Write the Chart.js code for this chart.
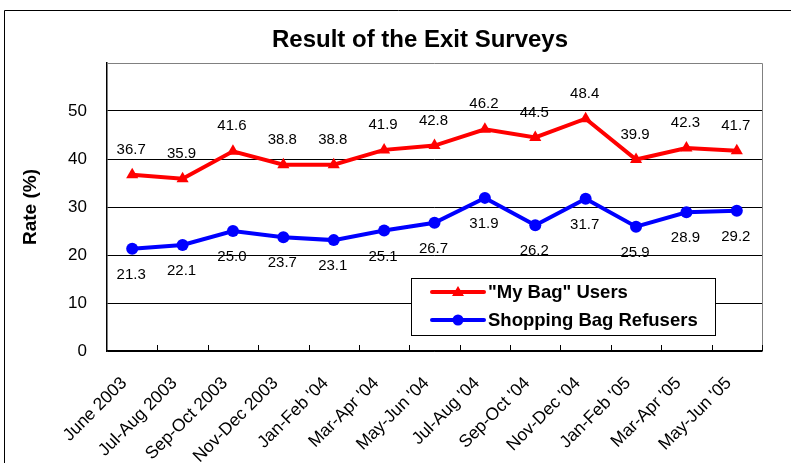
<!DOCTYPE html>
<html><head><meta charset="utf-8">
<script src="https://cdn.jsdelivr.net/npm/chart.js@4"></script>
<style>html,body{margin:0;padding:0;background:#fff}#wrap{width:791px;height:463px;position:relative}</style>
</head><body><div id="wrap"><canvas id="c" width="791" height="463"></canvas></div>
<script>
const categories = ["June 2003","Jul-Aug 2003","Sep-Oct 2003","Nov-Dec 2003","Jan-Feb '04","Mar-Apr '04","May-Jun '04","Jul-Aug '04","Sep-Oct '04","Nov-Dec '04","Jan-Feb '05","Mar-Apr '05","May-Jun '05"];
const myBagUsers = [36.7,35.9,41.6,38.8,38.8,41.9,42.8,46.2,44.5,48.4,39.9,42.3,41.7];
const bagRefusers = [21.3,22.1,25.0,23.7,23.1,25.1,26.7,31.9,26.2,31.7,25.9,28.9,29.2];
const yTicks = [0,10,20,30,40,50];
const titleText = "Result of the Exit Surveys";
const yTitle = "Rate (%)";

const F = "'Liberation Sans', Arial, sans-serif";

const decor = {
  id: 'decor',
  beforeDraw(chart) {
    const ctx = chart.ctx;
    ctx.save();
    ctx.fillStyle = '#fff';
    ctx.fillRect(0,0,chart.width,chart.height);
    ctx.strokeStyle = '#000'; ctx.lineWidth = 1;
    ctx.beginPath(); ctx.moveTo(4.5, 470); ctx.lineTo(4.5, 10.5); ctx.lineTo(800, 10.5); ctx.stroke();
    ctx.restore();
  },
  beforeDatasetsDraw(chart) {
    const ctx = chart.ctx, a = chart.chartArea, xs = chart.scales.x;
    ctx.save();
    ctx.strokeStyle = '#808080'; ctx.lineWidth = 1;
    ctx.clearRect(a.left + 1, a.top - 1, a.right - a.left + 3, 3);
    ctx.fillStyle = '#fff';
    ctx.fillRect(a.left + 1, a.top - 1, a.right - a.left + 3, 3);
    ctx.beginPath();
    ctx.moveTo(Math.round(a.left), Math.round(a.top)+0.5);
    ctx.lineTo(Math.round(a.right)+0.5, Math.round(a.top)+0.5);
    ctx.lineTo(Math.round(a.right)+0.5, Math.round(a.bottom)+0.5);
    ctx.stroke();
    ctx.strokeStyle = '#000';
    ctx.beginPath();
    for (let i = 0; i < categories.length; i++) {
      let x;
      if (i < categories.length - 1) x = (xs.getPixelForValue(i) + xs.getPixelForValue(i+1)) / 2;
      else x = a.right;
      x = Math.round(x) + 0.5;
      ctx.moveTo(x, a.bottom); ctx.lineTo(x, a.bottom - 6);
    }
    ctx.stroke();
    ctx.restore();
  },
  afterDraw(chart) {
    const ctx = chart.ctx;
    ctx.save();
    ctx.fillStyle = '#000';
    ctx.font = "bold 24px " + F;
    ctx.textAlign = 'center'; ctx.textBaseline = 'middle';
    ctx.fillText(titleText, 420, 40);
    ctx.save();
    ctx.translate(31, 207);
    ctx.rotate(-Math.PI/2);
    ctx.font = "bold 19px " + F;
    ctx.fillText(yTitle, 0, 0);
    ctx.restore();
    ctx.font = "15px " + F;
    chart.data.datasets.forEach((ds, di) => {
      const meta = chart.getDatasetMeta(di);
      meta.data.forEach((pt, i) => {
        const off = di === 0 ? -25 : 26;
        ctx.fillText(ds.data[i].toFixed(1), pt.x - 1, pt.y + off);
      });
    });
    const lx = 411.5, ly = 278.5, lw = 304, lh = 57;
    ctx.fillStyle = '#fff';
    ctx.fillRect(lx, ly, lw, lh);
    ctx.strokeStyle = '#000'; ctx.lineWidth = 1;
    ctx.strokeRect(lx, ly, lw, lh);
    chart.data.datasets.forEach((ds, di) => {
      const y = 292 + di * 28;
      ctx.strokeStyle = ds.borderColor; ctx.lineWidth = 4; ctx.lineCap = 'round';
      ctx.beginPath(); ctx.moveTo(432, y); ctx.lineTo(484, y); ctx.stroke();
      ctx.fillStyle = ds.borderColor;
      ctx.beginPath();
      if (ds.pointStyle === 'triangle') {
        ctx.moveTo(458, y - 6); ctx.lineTo(464, y + 4); ctx.lineTo(452, y + 4); ctx.closePath();
      } else {
        ctx.arc(458, y, 5.5, 0, Math.PI*2);
      }
      ctx.fill();
      ctx.fillStyle = '#000';
      ctx.font = "bold 18.5px " + F;
      ctx.textAlign = 'left'; ctx.textBaseline = 'middle';
      ctx.fillText(ds.label, 488, y + 1);
    });
    ctx.restore();
  }
};

new Chart(document.getElementById('c'), {
  type: 'line',
  data: {
    labels: categories,
    datasets: [
      { label: '"My Bag" Users', data: myBagUsers, borderColor: '#ff0000', backgroundColor: '#ff0000',
        borderWidth: 4, pointStyle: 'triangle', pointRadius: 7, pointBorderWidth: 0, tension: 0 },
      { label: 'Shopping Bag Refusers', data: bagRefusers, borderColor: '#0000ff', backgroundColor: '#0000ff',
        borderWidth: 4, pointStyle: 'circle', pointRadius: 6, pointBorderWidth: 0, tension: 0 }
    ]
  },
  options: {
    responsive: false, animation: false,
    layout: { padding: { left: 0, top: 63, right: 29, bottom: 0 } },
    plugins: { legend: { display: false }, title: { display: false }, tooltip: { enabled: false } },
    scales: {
      x: {
        offset: true,
        grid: { display: false, drawTicks: false, offset: true },
        border: { display: true, color: '#000', width: 1.5 },
        ticks: { color: '#000', font: { family: F, size: 17.5 }, maxRotation: 45, minRotation: 45, padding: 22, labelOffset: -8, autoSkip: false },
        afterFit(s) { s.height = 112; }
      },
      y: {
        min: 0, max: 60,
        afterBuildTicks(s) { s.ticks = yTicks.map(v => ({ value: v })); },
        grid: { color: '#000', lineWidth: 1, drawTicks: false },
        border: { display: true, color: '#000', width: 1.5 },
        ticks: { color: '#000', font: { family: F, size: 17 }, padding: 20 },
        afterFit(s) { s.width = 107; }
      }
    }
  },
  plugins: [decor]
});
</script></body></html>
